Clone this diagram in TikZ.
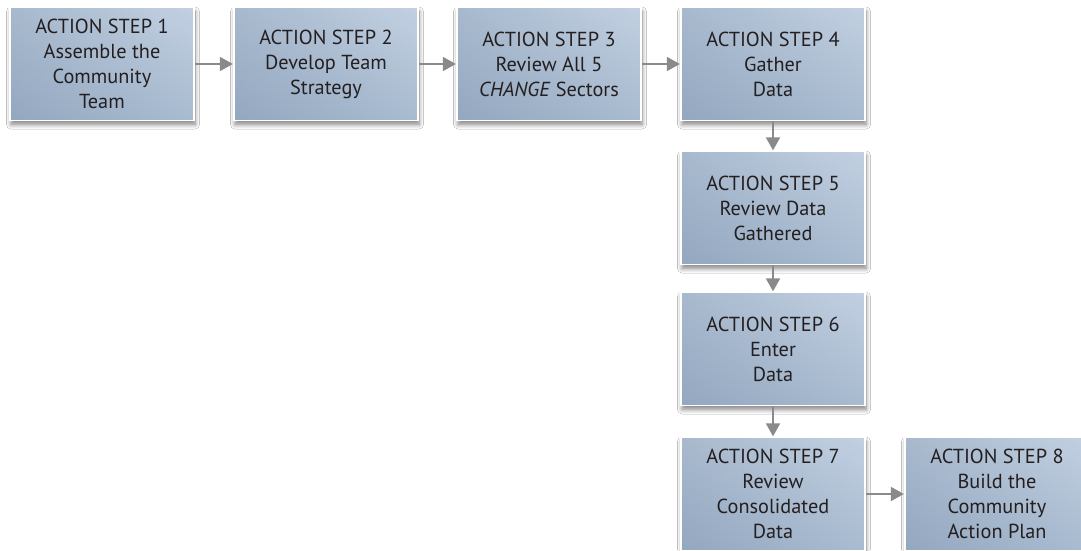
\documentclass[tikz,border=0pt]{standalone}
\usepackage{fontspec}
\setmainfont{PT Sans}
\usetikzlibrary{arrows.meta,shadings,shadows.blur}
\definecolor{boxTR}{HTML}{C2D0E1}
\definecolor{boxTL}{HTML}{A8B9CE}
\definecolor{boxBL}{HTML}{93A7BF}
\definecolor{boxBR}{HTML}{A9BBD0}
\definecolor{txt}{HTML}{231F20}
\definecolor{arr}{HTML}{8A8A8A}
\tikzset{
  stepbox/.style={rectangle, minimum width=184pt, minimum height=113pt,
    inner sep=0pt, align=center, text=txt, font=\fontsize{20.3}{25}\selectfont,
    upper right=boxTR, upper left=boxTL, lower left=boxBL, lower right=boxBR,
    draw=white, line width=1.3pt,
    blur shadow={shadow xshift=1pt, shadow yshift=-4pt, shadow blur radius=4.5pt, shadow blur steps=10, shadow opacity=50}},
  flow/.style={draw=arr, line width=1.8pt, -{Triangle[length=13pt,width=14pt]}, shorten >=0.5pt}
}
\begin{document}
\begin{tikzpicture}[x=1pt,y=-1pt]
\clip (0,0) rectangle (1081,550);
\fill[white] (0,0) rectangle (1081,550);
\node[stepbox] (s1) at (102,64) {ACTION STEP 1\\Assemble the\\Community\\Team};
\node[stepbox] (s2) at (326,64) {ACTION STEP 2\\Develop Team\\Strategy};
\node[stepbox] (s3) at (549,64) {ACTION STEP 3\\Review All 5\\\textit{CHANGE} Sectors};
\node[stepbox] (s4) at (773,64) {ACTION STEP 4\\Gather\\Data};
\node[stepbox] (s5) at (773,208) {ACTION STEP 5\\Review Data\\Gathered};
\node[stepbox] (s6) at (773,349) {ACTION STEP 6\\Enter\\Data};
\node[stepbox] (s7) at (773,494) {ACTION STEP 7\\Review\\Consolidated\\Data};
\node[stepbox] (s8) at (997,494) {ACTION STEP 8\\Build the\\Community\\Action Plan};
\draw[flow] (s1) -- (s2);
\draw[flow] (s2) -- (s3);
\draw[flow] (s3) -- (s4);
\draw[flow] (s4) -- (s5);
\draw[flow] (s5) -- (s6);
\draw[flow] (s6) -- (s7);
\draw[flow] (s7) -- (s8);
\end{tikzpicture}
\end{document}
